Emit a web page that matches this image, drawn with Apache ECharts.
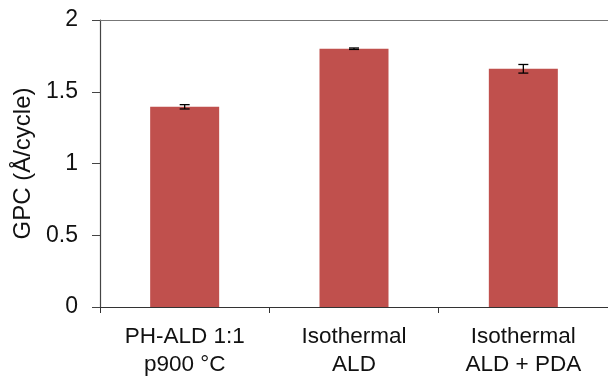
<!DOCTYPE html>
<html><head><meta charset="utf-8">
<script src="https://cdn.jsdelivr.net/npm/echarts@6/dist/echarts.min.js"></script>
<style>html,body{margin:0;padding:0;background:#fff}#c{width:608px;height:376px}</style>
</head><body><div id="c"></div>
<script>
const categories = ['PH-ALD 1:1\np900 °C', 'Isothermal\nALD', 'Isothermal\nALD + PDA'];
const gpcValues = [1.395, 1.80, 1.66];
const gpcErrors = [0.015, 0.005, 0.03];
const yTicks = [0, 0.5, 1, 1.5, 2];

const errData = categories.map((c, i) => [i, gpcValues[i] - gpcErrors[i], gpcValues[i] + gpcErrors[i]]);
const font = 'Liberation Sans, Arial, sans-serif';
const chart = echarts.init(document.getElementById('c'), null, {renderer: 'canvas'});
chart.setOption({
  animation: false,
  grid: {left: 100, right: 0, top: 20, bottom: 69, containLabel: false, outerBoundsMode: 'none'},
  xAxis: [{
    type: 'category', data: categories,
    axisLine: {lineStyle: {color: '#333', width: 1.2}},
    axisTick: {show: true, length: 6, lineStyle: {color: '#333'}},
    axisLabel: {color: '#111', fontFamily: font, fontSize: 22.5, lineHeight: 28, margin: 16, interval: 0}
  }, {
    type: 'category', data: categories, position: 'top',
    axisLine: {lineStyle: {color: '#777', width: 1.2}},
    axisTick: {show: false}, axisLabel: {show: false}
  }],
  yAxis: {
    type: 'value', min: 0, max: 2, interval: 0.5,
    name: 'GPC (Å/cycle)', nameLocation: 'middle', nameGap: 63, nameRotate: 90,
    nameTextStyle: {color: '#111', fontFamily: font, fontSize: 24},
    splitLine: {show: false},
    axisLine: {show: true, lineStyle: {color: '#444', width: 1.2}},
    axisTick: {show: true, length: 8, lineStyle: {color: '#444'}},
    axisLabel: {color: '#111', fontFamily: font, fontSize: 23, margin: 22,
      formatter: v => { const t = yTicks.find(x => Math.abs(x - v) < 1e-9); return t === undefined ? '' : String(t); }}
  },
  series: [
    {type: 'bar', data: gpcValues, barWidth: 69, itemStyle: {color: '#C0504D'}},
    {type: 'custom', data: errData, z: 10,
     renderItem: (params, api) => {
       const x = api.value(0);
       const lo = api.coord([x, api.value(1)]);
       const hi = api.coord([x, api.value(2)]);
       const w = 5;
       const st = {stroke: '#000', lineWidth: 1.3};
       return {type: 'group', children: [
         {type: 'line', shape: {x1: lo[0], y1: lo[1], x2: hi[0], y2: hi[1]}, style: st},
         {type: 'line', shape: {x1: lo[0]-w, y1: lo[1], x2: lo[0]+w, y2: lo[1]}, style: st},
         {type: 'line', shape: {x1: hi[0]-w, y1: hi[1], x2: hi[0]+w, y2: hi[1]}, style: st}
       ]};
     }}
  ]
});
</script></body></html>
